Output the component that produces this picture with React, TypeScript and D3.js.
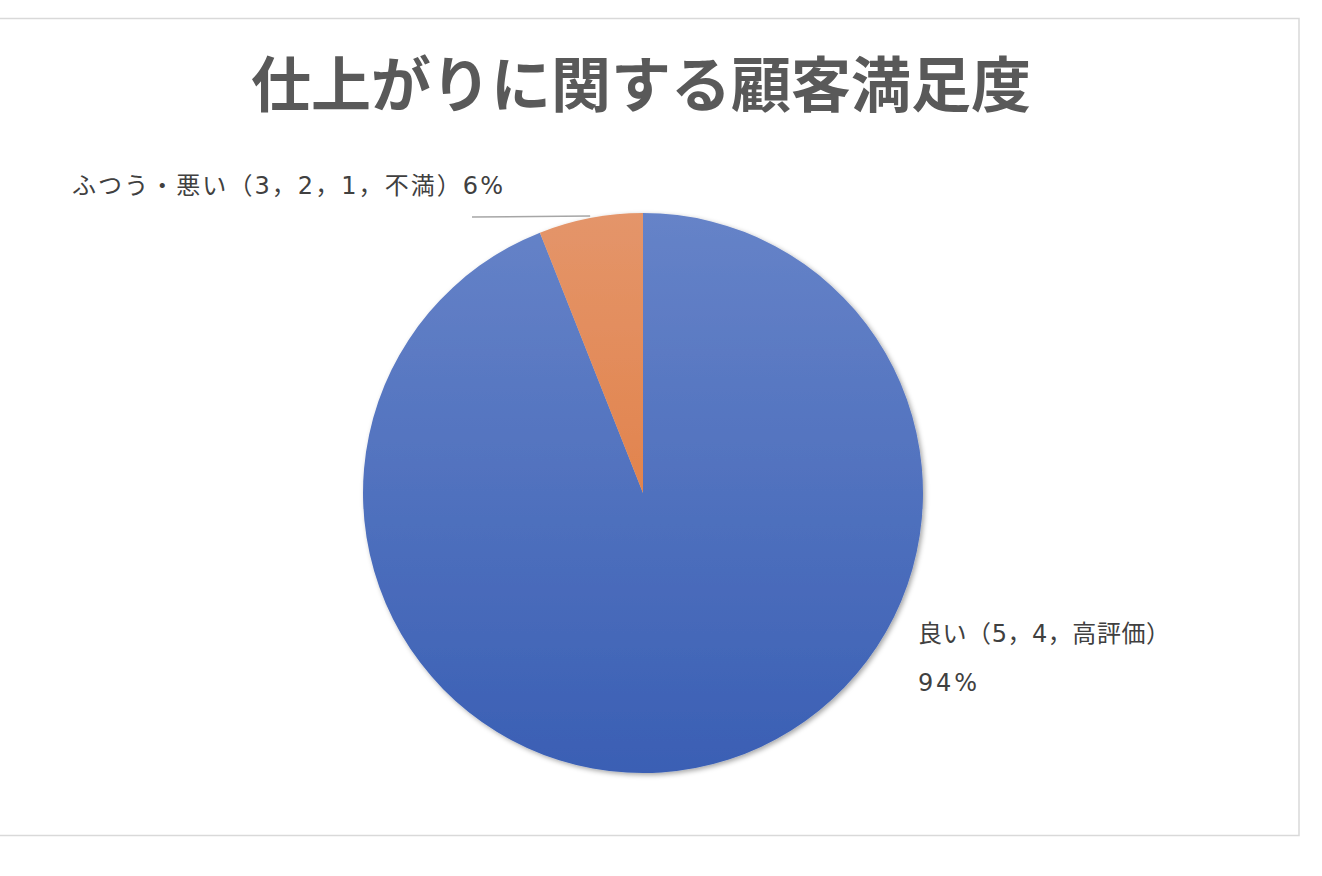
import { useEffect, useRef } from 'react';
import * as d3 from 'd3';

const categories = ['良い（5，4，高評価）', 'ふつう・悪い（3，2，1，不満）'];
const values = [94, 6];
const percentLabels = ['94%', '6%'];
const title = '仕上がりに関する顧客満足度';

const W = 1322;
const H = 876;
const FONT = '"Noto Sans CJK JP", "Noto Sans", sans-serif';
const LABEL_FONT = '"DejaVu Sans", "Noto Sans CJK JP", sans-serif';

export default function App() {
  const svgRef = useRef<SVGSVGElement>(null);

  useEffect(() => {
    if (!svgRef.current) return;
    const svg = d3.select(svgRef.current);
    svg.selectAll('*').remove();

    const defs = svg.append('defs');
    const grads = [
      { id: 'gBlue', top: '#6683c8', bottom: '#3a5fb4' },
      { id: 'gOrange', top: '#e4956a', bottom: '#df7230' },
    ];
    grads.forEach(g => {
      const lg = defs.append('linearGradient')
        .attr('id', g.id)
        .attr('gradientUnits', 'userSpaceOnUse')
        .attr('x1', 0).attr('y1', -280).attr('x2', 0).attr('y2', 280);
      lg.append('stop').attr('offset', '0%').attr('stop-color', g.top);
      lg.append('stop').attr('offset', '100%').attr('stop-color', g.bottom);
    });
    defs.append('filter')
      .attr('id', 'shadow')
      .attr('x', '-10%').attr('y', '-10%').attr('width', '120%').attr('height', '120%')
      .append('feDropShadow')
      .attr('dx', 2).attr('dy', 2).attr('stdDeviation', 2.5)
      .attr('flood-color', '#000').attr('flood-opacity', 0.35);

    // chart frame
    svg.append('rect')
      .attr('x', -1).attr('y', 18.5)
      .attr('width', 1300).attr('height', 817)
      .attr('fill', '#fff')
      .attr('stroke', '#d9d9d9')
      .attr('stroke-width', 1.5);

    svg.append('text')
      .attr('x', 641).attr('y', 107)
      .attr('text-anchor', 'middle')
      .attr('font-family', FONT)
      .attr('font-weight', 'bold')
      .attr('font-size', 60)
      .attr('fill', '#595959')
      .text(title);

    const cx = 643, cy = 493, r = 280;
    const g = svg.append('g').attr('transform', `translate(${cx},${cy})`);

    const pie = d3.pie<number>().sort(null).value(d => d);
    const arcs = pie(values);
    const arc = d3.arc<d3.PieArcDatum<number>>().innerRadius(0).outerRadius(r);

    const pg = g.append('g').attr('filter', 'url(#shadow)');
    pg.selectAll('path')
      .data(arcs)
      .join('path')
      .attr('d', arc)
      .attr('fill', (_, i) => `url(#${grads[i].id})`);

    // leader line for small slice
    const small = arcs[1];
    const mid = (small.startAngle + small.endAngle) / 2;
    const ex = Math.sin(mid) * (r + 2);
    const ey = -Math.cos(mid) * (r + 2);
    g.append('path')
      .attr('d', d3.line()([[472 - cx, 217 - cy], [ex, ey]]))
      .attr('fill', 'none')
      .attr('stroke', '#a6a6a6')
      .attr('stroke-width', 1.5);

    const labelStyle = (t: d3.Selection<SVGTextElement, unknown, null, undefined>) =>
      t.attr('font-family', LABEL_FONT).attr('font-size', 24).attr('fill', '#404040');

    const l1 = svg.append('text')
      .attr('x', 72).attr('y', 194)
      .call(labelStyle)
      .text(`${categories[1]}${percentLabels[1]}`);
    fitWidth(l1.node()!, 431);

    const l2 = svg.append('text')
      .attr('x', 918).attr('y', 642)
      .call(labelStyle)
      .text(categories[0]);
    fitWidth(l2.node()!, 252);
    const l3 = svg.append('text')
      .attr('x', 918).attr('y', 691)
      .call(labelStyle)
      .text(percentLabels[0]);
    fitWidth(l3.node()!, 59);
  }, []);

  return (
    <div style={{ position: 'fixed', left: 0, top: 0, width: W, height: H, background: '#fff' }}>
      <svg ref={svgRef} width={W} height={H} />
    </div>
  );
}

// spread letters so the label spans the same width as the reference
function fitWidth(node: SVGTextElement, target: number) {
  const w = node.getComputedTextLength();
  const n = (node.textContent || '').length;
  if (n > 1 && w < target) {
    node.setAttribute('letter-spacing', String((target - w) / (n - 1)));
  }
}
